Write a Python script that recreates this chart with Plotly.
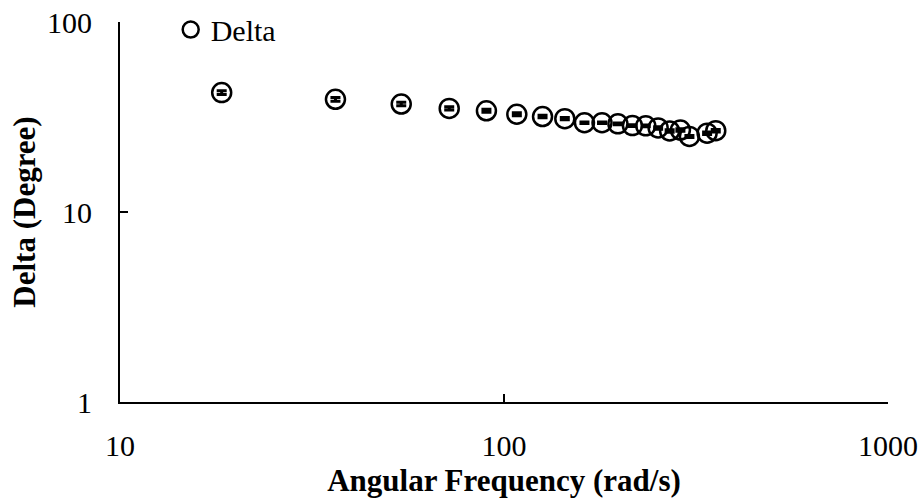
import plotly.graph_objects as go

freq = [18.4, 36.4, 54, 72, 90, 108, 126, 144, 162, 180, 198, 216, 234, 252, 270, 288, 304, 338, 356]
delta = [42.5, 39.2, 37.0, 35.1, 34.1, 32.7, 31.8, 31.0, 29.5, 29.5, 29.1, 28.5, 28.4, 27.7, 26.7, 27.0, 25.0, 26.0, 26.8]
delta_err = [1.0, 0.9, 0.8, 0.7, 0.6, 0.6, 0.5, 0.4, 0.3, 0.3, 0.3, 0.3, 0.3, 0.4, 0.4, 0.4, 0.3, 0.4, 0.4]

x_ticks = [10, 100, 1000]
y_ticks = [1, 10, 100]

fig = go.Figure()
fig.add_trace(go.Scatter(
    x=freq, y=delta, mode="markers", name="Delta",
    marker=dict(symbol="circle-open", size=19, color="black", line=dict(width=2.5, color="black")),
    error_y=dict(type="data", array=delta_err, color="black", thickness=3, width=5, visible=True),
))

font_family = "Liberation Serif, Times New Roman, serif"
fig.update_layout(
    width=922, height=504,
    margin=dict(l=120, r=34, t=22, b=102, autoexpand=False),
    paper_bgcolor="white", plot_bgcolor="white",
    font=dict(family=font_family, size=30, color="black"),
    showlegend=True,
    legend=dict(x=0.066, y=0.98, xanchor="left", yanchor="middle", bgcolor="rgba(0,0,0,0)",
                font=dict(family=font_family, size=30, color="black"),
                itemwidth=30, tracegroupgap=0),
    xaxis=dict(type="log", range=[1, 3], tickvals=x_ticks, ticktext=[str(v) for v in x_ticks],
               showgrid=False, zeroline=False, showline=True, linecolor="black", linewidth=2,
               ticks="inside", ticklen=8, tickwidth=2, tickcolor="black", automargin=False,
               ticklabelstandoff=16, tickfont=dict(size=30),
               title=dict(text="<b>Angular Frequency (rad/s)</b>", standoff=8,
                          font=dict(family=font_family, size=31, color="black"))),
    yaxis=dict(type="log", range=[0, 2], tickvals=y_ticks, ticktext=[str(v) for v in y_ticks],
               showgrid=False, zeroline=False, showline=True, linecolor="black", linewidth=2,
               ticks="inside", ticklen=8, tickwidth=2, tickcolor="black", automargin=False,
               ticklabelstandoff=20, tickfont=dict(size=30),
               title=dict(text="<b>Delta (Degree)</b>", standoff=2,
                          font=dict(family=font_family, size=31, color="black"))),
)

fig.write_html("out.html")
